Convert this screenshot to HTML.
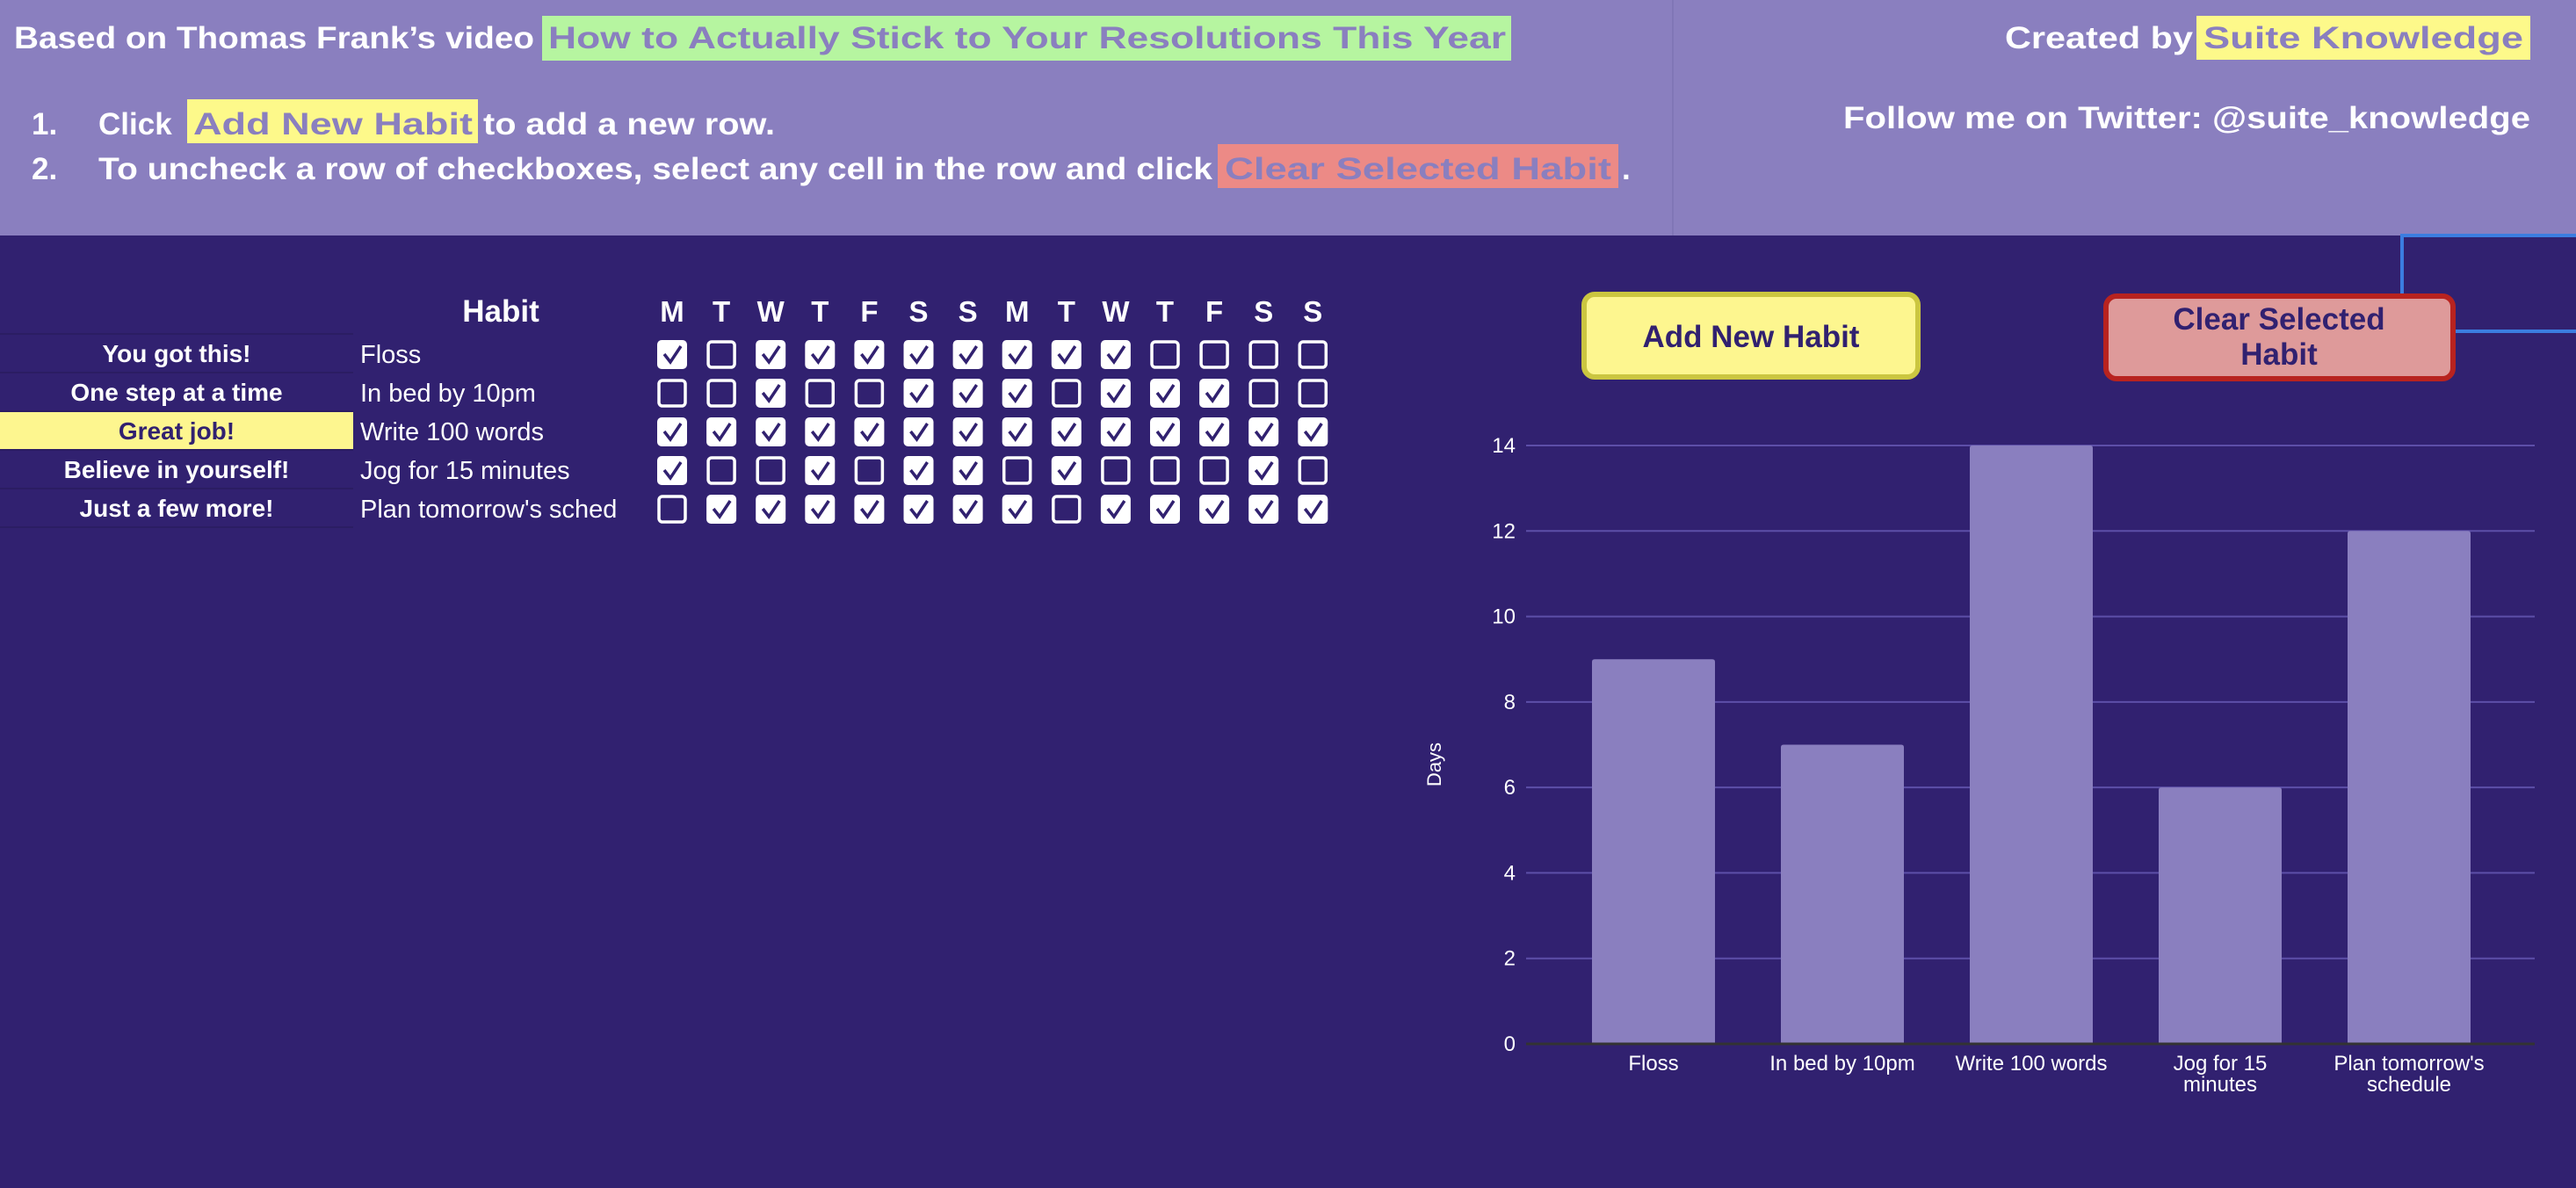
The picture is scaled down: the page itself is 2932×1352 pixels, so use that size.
<!DOCTYPE html>
<html><head><meta charset="utf-8"><style>
html,body{margin:0;padding:0;background:#312170;}
svg{display:block}
text{font-family:"Liberation Sans",sans-serif}
</style></head><body>
<svg id="s" width="2932" height="1352" viewBox="0 0 2932 1352" xmlns="http://www.w3.org/2000/svg">
<rect x="0" y="0" width="2932" height="1352" fill="#312170"/>
<g>
<rect x="0" y="0" width="2932" height="268" fill="#8a7fbf"/>
<line x1="1904" y1="0" x2="1904" y2="268" stroke="#8076b6" stroke-width="2"/>
<text x="16" y="55" font-size="35" font-weight="bold" fill="#fff" textLength="592" lengthAdjust="spacingAndGlyphs">Based on Thomas Frank’s video</text>
<rect x="617" y="18" width="1103" height="51" fill="#b6f5a0"/>
<text x="624" y="55" font-size="35" font-weight="bold" fill="#8a7fbf" textLength="1090" lengthAdjust="spacingAndGlyphs">How to Actually Stick to Your Resolutions This Year</text>
<text x="36" y="153" font-size="35" font-weight="bold" fill="#fff">1.</text>
<text x="112" y="153" font-size="35" font-weight="bold" fill="#fff">Click</text>
<rect x="213" y="113" width="331" height="50" fill="#fdf98a"/>
<text x="220" y="153" font-size="35" font-weight="bold" fill="#8a7fbf" textLength="318" lengthAdjust="spacingAndGlyphs">Add New Habit</text>
<text x="550" y="153" font-size="35" font-weight="bold" fill="#fff" textLength="332" lengthAdjust="spacingAndGlyphs">to add a new row.</text>
<text x="36" y="204" font-size="35" font-weight="bold" fill="#fff">2.</text>
<text x="112" y="204" font-size="35" font-weight="bold" fill="#fff" textLength="1268" lengthAdjust="spacingAndGlyphs">To uncheck a row of checkboxes, select any cell in the row and click</text>
<rect x="1386" y="164" width="456" height="50" fill="#ec8a86"/>
<text x="1394" y="204" font-size="35" font-weight="bold" fill="#8a7fbf" textLength="440" lengthAdjust="spacingAndGlyphs">Clear Selected Habit</text>
<text x="1846" y="204" font-size="35" font-weight="bold" fill="#fff">.</text>
<text x="2282" y="55" font-size="35" font-weight="bold" fill="#fff" textLength="214" lengthAdjust="spacingAndGlyphs">Created by</text>
<rect x="2500" y="18" width="380" height="50" fill="#fdf98a"/>
<text x="2508" y="55" font-size="35" font-weight="bold" fill="#8a7fbf" textLength="364" lengthAdjust="spacingAndGlyphs">Suite Knowledge</text>
<text x="2880" y="146" font-size="35" font-weight="bold" fill="#fff" text-anchor="end" textLength="782" lengthAdjust="spacingAndGlyphs">Follow me on Twitter: @suite_knowledge</text>
</g>
<g stroke="#3b7de0" stroke-width="4" fill="none">
<polyline points="2932,268 2734,268 2734,335"/>
<line x1="2794" y1="377" x2="2932" y2="377"/>
</g>
<g>
<rect x="1803" y="335" width="380" height="94" rx="12" fill="#fdf68f" stroke="#cbc640" stroke-width="6"/>
<text x="1993" y="395" font-size="35" font-weight="bold" fill="#312170" text-anchor="middle">Add New Habit</text>
</g>
<g>
<rect x="2397" y="337" width="395" height="94" rx="12" fill="#de9a9a" stroke="#b8231f" stroke-width="6"/>
<text x="2594" y="375" font-size="35" font-weight="bold" fill="#312170" text-anchor="middle">Clear Selected</text>
<text x="2594" y="415" font-size="35" font-weight="bold" fill="#312170" text-anchor="middle">Habit</text>
</g>
<g id="table"></g>
<g id="chart"></g>
</svg>
<script>
const days = ["M","T","W","T","F","S","S","M","T","W","T","F","S","S"];
const motivations = ["You got this!","One step at a time","Great job!","Believe in yourself!","Just a few more!"];
const habits = ["Floss","In bed by 10pm","Write 100 words","Jog for 15 minutes","Plan tomorrow's sched"];
const checks = [
 [1,0,1,1,1,1,1,1,1,1,0,0,0,0],
 [0,0,1,0,0,1,1,1,0,1,1,1,0,0],
 [1,1,1,1,1,1,1,1,1,1,1,1,1,1],
 [1,0,0,1,0,1,1,0,1,0,0,0,1,0],
 [0,1,1,1,1,1,1,1,0,1,1,1,1,1]
];
const categories = [["Floss"],["In bed by 10pm"],["Write 100 words"],["Jog for 15","minutes"],["Plan tomorrow's","schedule"]];
const dayCounts = [9,7,14,6,12];
const yTicks = [0,2,4,6,8,10,12,14];

const NS="http://www.w3.org/2000/svg";
function mk(tag,attrs,parent,txt){const e=document.createElementNS(NS,tag);for(const k in attrs)e.setAttribute(k,attrs[k]);if(txt!==undefined)e.textContent=txt;parent.appendChild(e);return e;}
const T=document.getElementById('table');
const rowY=i=>380+44*i;
const colX=j=>748+56.1*j;
let h=mk('text',{x:570,y:366,'font-size':35,'font-weight':'bold',fill:'#fff','text-anchor':'middle'},T,'Habit');


days.forEach((d,j)=>{
 const t=mk('text',{x:colX(j)+17,y:366,'font-size':33,'font-weight':'bold',fill:'#fff','text-anchor':'middle'},T,d);
 
 
});
motivations.forEach((m,i)=>{
 const y=rowY(i);
 if(i===2){const r=mk('rect',{x:0,y:y,width:402,height:44,fill:'#fdf68f'},T);
  
  }
 mk('line',{x1:0,y1:y,x2:402,y2:y,stroke:'#2b1d63','stroke-width':2},T);
 const t=mk('text',{x:201,y:y+32,'font-size':28,'font-weight':'bold',fill:i===2?'#312170':'#fff','text-anchor':'middle'},T,m);
 
 
 const hb=mk('text',{x:410,y:y+33,'font-size':29,fill:'#fff'},T,habits[i]);
 
 
 checks[i].forEach((c,j)=>{
  const g=mk('g',{},T);
  
  
  const x=colX(j), by=y+7;
  if(c){mk('rect',{x:x,y:by,width:34,height:33,rx:5,fill:'#fff'},g);
   mk('polyline',{points:`${x+8},${by+16} ${x+15},${by+25} ${x+27},${by+7}`,fill:'none',stroke:'#312170','stroke-width':3.5},g);}
  else mk('rect',{x:x+2,y:by+2,width:30,height:29,rx:4,fill:'none',stroke:'#fff','stroke-width':3.5},g);
 });
});
mk('line',{x1:0,y1:rowY(5),x2:402,y2:rowY(5),stroke:'#2b1d63','stroke-width':2},T);

const C=document.getElementById('chart');
const x0=1737,x1=2885,yZero=1188,yMax=14,yTop=507;
const ys=v=>yZero-(yZero-yTop)*v/yMax;
const step=215,bw=140;
const xc=i=>1882+step*i;
yTicks.forEach(v=>{
 if(v>0){const l=mk('line',{x1:x0,y1:ys(v),x2:x1,y2:ys(v),stroke:'#5d4fa8','stroke-width':2},C);
  
  }
 const t=mk('text',{x:1725,y:ys(v)+8,'font-size':24,fill:'#fff','text-anchor':'end'},C,v);
 
 
});
dayCounts.forEach((v,i)=>{
 const b=mk('path',{d:`M${xc(i)-bw/2},${yZero} V${ys(v)+3} q0,-3 3,-3 H${xc(i)+bw/2-3} q3,0 3,3 V${yZero} Z`,fill:'#8a7fbf'},C);
 
 
 categories[i].forEach((ln,k)=>{
  const t=mk('text',{x:xc(i),y:1218+24*k,'font-size':24,fill:'#fff','text-anchor':'middle'},C,ln);
  
  
 });
});
const ax=mk('line',{x1:x0,y1:yZero,x2:x1,y2:yZero,stroke:'#333','stroke-width':3},C);


const yt=mk('text',{x:1640,y:870,'font-size':22,fill:'#fff','text-anchor':'middle',transform:'rotate(-90 1640 870)'},C,'Days');


</script>
</body></html>
